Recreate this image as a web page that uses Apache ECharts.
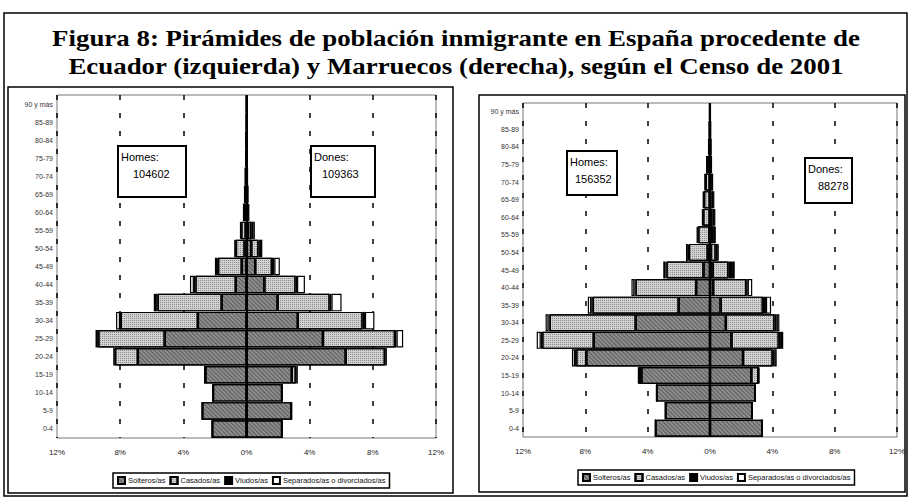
<!DOCTYPE html>
<html>
<head>
<meta charset="utf-8">
<title>Pirámides de población inmigrante</title>
<script src="https://cdn.jsdelivr.net/npm/echarts@6.0.0/dist/echarts.min.js"></script>
<style>
html, body { margin: 0; padding: 0; background: #fff; }
#chart { width: 912px; height: 497px; }
</style>
</head>
<body>
<div id="chart"></div>
<script>
// grupos de edad, de abajo a arriba
var ageGroups = ['0-4', '5-9', '10-14', '15-19', '20-24', '25-29', '30-34', '35-39', '40-44', '45-49',
  '50-54', '55-59', '60-64', '65-69', '70-74', '75-79', '80-84', '85-89', '90 y más'];
var stateNames = ['Solteros/as', 'Casados/as', 'Viudos/as', 'Separados/as o divorciados/as'];

// Ecuador (% sobre el total), hombres
var ecuHomesSolteros = [2.17, 2.8, 2.12, 2.6, 6.88, 5.18, 3.08, 1.57, 0.68, 0.3, 0.12, 0.05, 0.03, 0.02, 0.01, 0.01, 0.005, 0, 0];
var ecuHomesCasados = [0, 0, 0, 0.05, 1.44, 4.2, 4.88, 4.05, 2.55, 1.5, 0.55, 0.28, 0.13, 0.08, 0.05, 0.03, 0.02, 0.01, 0.005];
var ecuHomesViudos = [0, 0, 0, 0, 0.02, 0.03, 0.05, 0.1, 0.1, 0.05, 0.03, 0.03, 0.02, 0.02, 0.02, 0.01, 0.01, 0.005, 0.003];
var ecuHomesSeparados = [0, 0, 0, 0, 0.1, 0.15, 0.25, 0.15, 0.25, 0.15, 0.08, 0.04, 0.02, 0.01, 0.01, 0.005, 0.003, 0.002, 0.001];
// Ecuador, mujeres
var ecuDonesSolteras = [2.25, 2.85, 2.25, 2.87, 6.28, 4.84, 3.25, 1.97, 1.13, 0.55, 0.3, 0.1, 0.03, 0.02, 0.01, 0.01, 0.005, 0.003, 0.002];
var ecuDonesCasadas = [0, 0, 0, 0.25, 2.48, 4.56, 4.1, 3.29, 1.97, 1.06, 0.45, 0.2, 0.06, 0.03, 0.02, 0.01, 0.01, 0.005, 0.003];
var ecuDonesViudas = [0, 0, 0, 0.03, 0.03, 0.1, 0.15, 0.12, 0.1, 0.15, 0.1, 0.13, 0.05, 0.04, 0.03, 0.02, 0.015, 0.01, 0.005];
var ecuDonesSeparadas = [0, 0, 0, 0.1, 0.1, 0.42, 0.6, 0.64, 0.5, 0.35, 0.15, 0.1, 0.01, 0.01, 0.01, 0.005, 0.002, 0.002, 0];

// Marruecos, hombres
var marHomesSolteros = [3.5, 2.86, 3.43, 4.4, 7.94, 7.46, 4.77, 2.01, 0.89, 0.42, 0.15, 0.05, 0.03, 0.02, 0.02, 0.01, 0.01, 0.005, 0.005];
var marHomesCasados = [0, 0, 0, 0.15, 0.64, 3.3, 5.51, 5.51, 3.88, 2.37, 1.2, 0.7, 0.4, 0.36, 0.26, 0.16, 0.06, 0.04, 0.025];
var marHomesViudos = [0, 0, 0, 0.02, 0.08, 0.1, 0.08, 0.1, 0.08, 0.07, 0.07, 0.05, 0.04, 0.04, 0.04, 0.04, 0.02, 0.01, 0.008];
var marHomesSeparados = [0, 0, 0, 0.05, 0.2, 0.26, 0.19, 0.22, 0.19, 0.14, 0.12, 0.05, 0.03, 0.03, 0.02, 0.01, 0.005, 0.005, 0.002];
// Marruecos, mujeres
var marDonesSolteras = [3.35, 2.71, 2.9, 2.65, 2.12, 1.38, 1.02, 0.68, 0.2, 0.17, 0.06, 0.04, 0.03, 0.02, 0.02, 0.01, 0.01, 0.005, 0.005];
var marDonesCasadas = [0, 0, 0, 0.45, 1.9, 3.03, 3.11, 2.71, 2.12, 1.0, 0.3, 0.16, 0.12, 0.08, 0.05, 0.03, 0.02, 0.01, 0.005];
var marDonesViudas = [0, 0, 0, 0.02, 0.1, 0.14, 0.15, 0.2, 0.1, 0.3, 0.14, 0.12, 0.14, 0.13, 0.09, 0.05, 0.04, 0.03, 0.02];
var marDonesSeparadas = [0, 0, 0, 0.06, 0.16, 0.15, 0.17, 0.33, 0.29, 0.12, 0.05, 0.03, 0.03, 0.02, 0.01, 0.01, 0, 0, 0];

// totales de cada pirámide
var ecuTotals = ['104602', '109363'];
var marTotals = ['156352', '88278'];

var titleText = 'Figura 8: Pirámides de población inmigrante en España procedente de\nEcuador (izquierda) y Marruecos (derecha), según el Censo de 2001';

var sansFont = '"Liberation Sans", Arial, sans-serif';

// aspecto de cada estado civil (escaneado en grises)
var stateStyles = [
  { color: '#8d8d8d', borderColor: '#000', borderWidth: 1.2,
    decal: { symbol: 'rect', color: 'rgba(30,30,30,0.45)', dashArrayX: [1, 0], dashArrayY: [1, 2], rotation: Math.PI / 4 } },
  { color: '#d2d2d2', borderColor: '#000', borderWidth: 1.2,
    decal: { symbol: 'rect', symbolSize: 1, color: 'rgba(70,70,70,0.5)', dashArrayX: [[1, 1]], dashArrayY: [1, 1] } },
  { color: '#000', borderColor: '#000', borderWidth: 1.2 },
  { color: '#fff', borderColor: '#000', borderWidth: 1.2 }
];

function neg(arr) {
  return arr.map(function (v) { return -v; });
}

function pyramidSeries(idx, homes, dones) {
  var list = [];
  for (var i = 0; i < 4; i++) {
    list.push({
      name: stateNames[i], type: 'bar', stack: 'p' + idx,
      xAxisIndex: idx, yAxisIndex: idx,
      barCategoryGap: '3%',
      itemStyle: stateStyles[i],
      data: neg(homes[i]),
      silent: true
    });
  }
  for (var j = 0; j < 4; j++) {
    list.push({
      name: stateNames[j], type: 'bar', stack: 'p' + idx,
      xAxisIndex: idx, yAxisIndex: idx,
      barCategoryGap: '3%',
      itemStyle: stateStyles[j],
      data: dones[j],
      silent: true
    });
  }
  // eje central
  list[0].markLine = {
    silent: true, symbol: ['none', 'none'], label: { show: false },
    lineStyle: { color: '#000', width: 2, type: 'solid' },
    data: [{ xAxis: 0 }]
  };
  return list;
}

function xAxisFor(idx) {
  return {
    type: 'value', gridIndex: idx, min: -12, max: 12, interval: 4,
    axisLine: { show: false }, axisTick: { show: false },
    axisLabel: {
      fontSize: 8, color: '#222', fontFamily: sansFont, margin: 10,
      formatter: function (v) { return Math.abs(v) + '%'; }
    },
    splitLine: { show: true, lineStyle: { color: '#000', width: 1.5, type: [5, 13] } }
  };
}

function yAxisFor(idx) {
  return {
    type: 'category', gridIndex: idx, data: ageGroups,
    axisLine: { show: false }, axisTick: { show: false },
    axisLabel: { fontSize: 7, color: '#333', fontFamily: sansFont, margin: 4 }
  };
}

function legendFor(left, top) {
  return {
    data: stateNames, left: left, top: top, orient: 'horizontal',
    icon: 'rect', itemWidth: 7, itemHeight: 7, itemGap: 4,
    backgroundColor: '#fff', borderColor: '#000', borderWidth: 1.5, padding: [3, 4],
    selectedMode: false,
    textStyle: { fontSize: 7.5, color: '#111', fontFamily: sansFont, padding: [0, 0, 0, -2] }
  };
}

function textBox(x, y, w, h, label, value, valueX) {
  return {
    type: 'group', z: 100, children: [
      { type: 'rect', z: 100, shape: { x: x, y: y, width: w, height: h },
        style: { fill: '#fff', stroke: '#000', lineWidth: 2 } },
      { type: 'text', z: 101, x: x + 3, y: y + 5,
        style: { text: label, fontSize: 11, fontFamily: sansFont, fill: '#000' } },
      { type: 'text', z: 101, x: valueX, y: y + 22,
        style: { text: value, fontSize: 11, fontFamily: sansFont, fill: '#000' } }
    ]
  };
}

var chart = echarts.init(document.getElementById('chart'), null, { renderer: 'svg' });

var option = {
  backgroundColor: '#fff',
  animation: false,
  grid: [
    { left: 57, top: 95, width: 379, height: 343, show: true, borderColor: '#777', borderWidth: 1, backgroundColor: '#fff' },
    { left: 523, top: 103, width: 374, height: 334, show: true, borderColor: '#777', borderWidth: 1, backgroundColor: '#fff' }
  ],
  xAxis: [xAxisFor(0), xAxisFor(1)],
  yAxis: [yAxisFor(0), yAxisFor(1)],
  legend: [legendFor(113, 473), legendFor(578, 470)],
  series: pyramidSeries(0,
      [ecuHomesSolteros, ecuHomesCasados, ecuHomesViudos, ecuHomesSeparados],
      [ecuDonesSolteras, ecuDonesCasadas, ecuDonesViudas, ecuDonesSeparadas])
    .concat(pyramidSeries(1,
      [marHomesSolteros, marHomesCasados, marHomesViudos, marHomesSeparados],
      [marDonesSolteras, marDonesCasadas, marDonesViudas, marDonesSeparadas])),
  graphic: [
    // marcos
    { type: 'rect', shape: { x: 4, y: 13, width: 903, height: 483 }, style: { fill: 'none', stroke: '#000', lineWidth: 1.5 }, silent: true },
    { type: 'rect', shape: { x: 8, y: 87, width: 445, height: 406 }, style: { fill: 'none', stroke: '#000', lineWidth: 1.5 }, silent: true },
    { type: 'rect', shape: { x: 479, y: 95, width: 426, height: 397 }, style: { fill: 'none', stroke: '#000', lineWidth: 1.5 }, silent: true },
    // título
    { type: 'text', x: 456, y: 23, scaleX: 1.12,
      style: { text: titleText, align: 'center', fontSize: 24, lineHeight: 29, fontWeight: 'bold',
        fontFamily: '"Liberation Serif", "Times New Roman", serif', fill: '#000' } },
    textBox(118, 146, 68, 51, 'Homes:', ecuTotals[0], 133),
    textBox(311, 146, 64, 51, 'Dones:', ecuTotals[1], 322),
    textBox(567, 151, 50, 44, 'Homes:', marTotals[0], 575),
    textBox(805, 158, 47, 45, 'Dones:', marTotals[1], 818)
  ]
};

chart.setOption(option);
</script>
</body>
</html>
